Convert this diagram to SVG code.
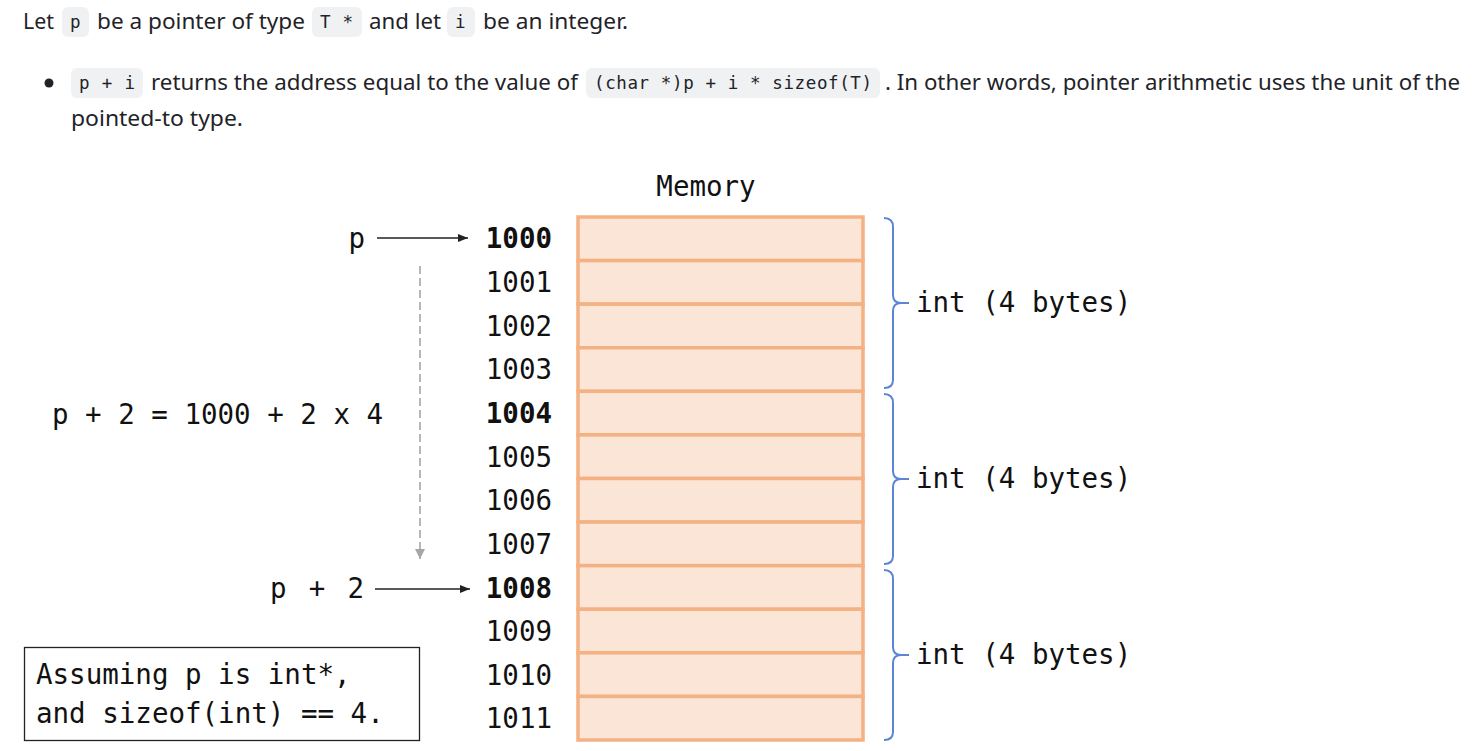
<svg xmlns="http://www.w3.org/2000/svg" width="1480" height="751" viewBox="0 0 1480 751">
<defs>
<style>
.body{font-family:"Noto Sans","Open Sans","Liberation Sans",sans-serif;font-size:21px;fill:#1f2328}
.code{font-family:"DejaVu Sans Mono","Liberation Mono",monospace;font-size:17.5px;fill:#1f2328}
.cbox{fill:#eff1f3}
.mono{font-family:"DejaVu Sans Mono","Liberation Mono",monospace;font-size:27.5px;fill:#111}
.addr{text-anchor:end}
.bold{font-weight:bold}
.cell{fill:#fbe5d6;stroke:#f4b183;stroke-width:3.5}
.brace{fill:none;stroke:#5a86d5;stroke-width:2}
.arrow{stroke:#222;stroke-width:1.6;fill:none}
.dash{stroke:#a6a6a6;stroke-width:1.6;stroke-dasharray:8 4;fill:none}
</style>
<marker id="ah" markerWidth="10" markerHeight="8" refX="10" refY="4" orient="auto" markerUnits="userSpaceOnUse">
<path d="M0,0 L10,4 L0,8 Z" fill="#222"/>
</marker>
<marker id="ahg" markerWidth="10" markerHeight="10" refX="10" refY="5" orient="auto" markerUnits="userSpaceOnUse">
<path d="M0,0 L10,5 L0,10 Z" fill="#a6a6a6"/>
</marker>
</defs>
<rect width="1480" height="751" fill="#ffffff"/>

<g id="intro">
<text class="body" x="23" y="29" textLength="31" lengthAdjust="spacingAndGlyphs">Let</text>
<rect class="cbox" x="62" y="7" width="27" height="30" rx="6"/>
<text class="code" x="70" y="28">p</text>
<text class="body" x="97" y="29" textLength="208" lengthAdjust="spacingAndGlyphs">be a pointer of type</text>
<rect class="cbox" x="312" y="7" width="50" height="30" rx="6"/>
<text class="code" x="320" y="28" textLength="33" lengthAdjust="spacing">T *</text>
<text class="body" x="369" y="29" textLength="72" lengthAdjust="spacingAndGlyphs">and let</text>
<rect class="cbox" x="447" y="7" width="28" height="30" rx="6"/>
<text class="code" x="455" y="28">i</text>
<text class="body" x="483" y="29" textLength="145" lengthAdjust="spacingAndGlyphs">be an integer.</text>

<circle cx="49" cy="83" r="4.5" fill="#1f2328"/>
<rect class="cbox" x="71" y="68" width="72" height="30" rx="6"/>
<text class="code" x="79" y="89" textLength="56" lengthAdjust="spacing">p + i</text>
<text class="body" x="151" y="90" textLength="427" lengthAdjust="spacingAndGlyphs">returns the address equal to the value of</text>
<rect class="cbox" x="586" y="68" width="294" height="30" rx="6"/>
<text class="code" x="594" y="89" textLength="278" lengthAdjust="spacing">(char *)p + i * sizeof(T)</text>
<text class="body" x="885" y="90" textLength="575" lengthAdjust="spacingAndGlyphs">. In other words, pointer arithmetic uses the unit of the</text>
<text class="body" x="71" y="126" textLength="172" lengthAdjust="spacingAndGlyphs">pointed-to type.</text>
</g>

<g id="memory">
<text class="mono" x="706" y="196" text-anchor="middle">Memory</text>
<rect class="cell" x="578" y="217" width="285" height="43.58"/>
<rect class="cell" x="578" y="260.58" width="285" height="43.58"/>
<rect class="cell" x="578" y="304.17" width="285" height="43.58"/>
<rect class="cell" x="578" y="347.75" width="285" height="43.58"/>
<rect class="cell" x="578" y="391.33" width="285" height="43.58"/>
<rect class="cell" x="578" y="434.92" width="285" height="43.58"/>
<rect class="cell" x="578" y="478.5" width="285" height="43.58"/>
<rect class="cell" x="578" y="522.08" width="285" height="43.58"/>
<rect class="cell" x="578" y="565.67" width="285" height="43.58"/>
<rect class="cell" x="578" y="609.25" width="285" height="43.58"/>
<rect class="cell" x="578" y="652.83" width="285" height="43.58"/>
<rect class="cell" x="578" y="696.42" width="285" height="43.58"/>
</g>

<g id="addresses">
<text class="mono addr bold" x="552" y="248">1000</text>
<text class="mono addr" x="552" y="292">1001</text>
<text class="mono addr" x="552" y="336">1002</text>
<text class="mono addr" x="552" y="379">1003</text>
<text class="mono addr bold" x="552" y="423">1004</text>
<text class="mono addr" x="552" y="467">1005</text>
<text class="mono addr" x="552" y="510">1006</text>
<text class="mono addr" x="552" y="554">1007</text>
<text class="mono addr bold" x="552" y="598">1008</text>
<text class="mono addr" x="552" y="641">1009</text>
<text class="mono addr" x="552" y="685">1010</text>
<text class="mono addr" x="552" y="728">1011</text>
</g>

<g id="int1">
<path class="brace" d="M884,218 Q893,218 893,227 V295 Q893,303 901,303 H909 M901,303 Q893,303 893,311 V380 Q893,388 884,388"/>
<text class="mono" x="916" y="312">int (4 bytes)</text>
</g>
<g id="int2">
<path class="brace" d="M884,394 Q893,394 893,403 V471 Q893,479 901,479 H909 M901,479 Q893,479 893,487 V556 Q893,564 884,564"/>
<text class="mono" x="916" y="488">int (4 bytes)</text>
</g>
<g id="int3">
<path class="brace" d="M884,570 Q893,570 893,579 V647 Q893,655 901,655 H909 M901,655 Q893,655 893,663 V732 Q893,740 884,740"/>
<text class="mono" x="916" y="664">int (4 bytes)</text>
</g>

<g id="label-p">
<text class="mono" x="365" y="248" text-anchor="end">p</text>
</g>
<g id="label-p2">
<text class="mono" x="270" y="598" textLength="94" lengthAdjust="spacing">p + 2</text>
</g>
<g id="formula">
<text class="mono" x="52" y="424">p + 2 = 1000 + 2 x 4</text>
</g>
<g id="note">
<rect x="24.5" y="647.5" width="395" height="93" fill="none" stroke="#222" stroke-width="1.3"/>
<text class="mono" x="36" y="684">Assuming p is int*,</text>
<text class="mono" x="36" y="723">and sizeof(int) == 4.</text>
</g>

<g id="connectors">
<line class="arrow" x1="377" y1="238" x2="468" y2="238" marker-end="url(#ah)"/>
<line class="arrow" x1="375" y1="589" x2="470" y2="589" marker-end="url(#ah)"/>
<line class="dash" x1="420" y1="266" x2="420" y2="559" marker-end="url(#ahg)"/>
</g>
</svg>
